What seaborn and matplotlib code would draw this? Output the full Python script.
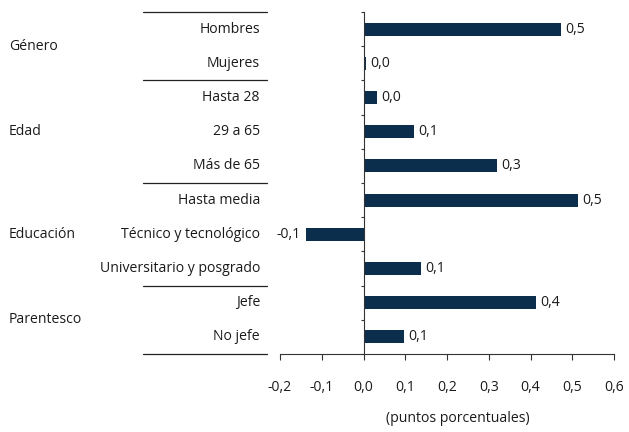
import pandas as pd
import matplotlib.pyplot as plt
import seaborn as sns
from matplotlib.transforms import blended_transform_factory
from matplotlib.lines import Line2D

# Chart values
categorias = ['Hombres', 'Mujeres', 'Hasta 28', '29 a 65', 'Más de 65',
              'Hasta media', 'Técnico y tecnológico', 'Universitario y posgrado',
              'Jefe', 'No jefe']
valores = [0.474, 0.005, 0.033, 0.122, 0.320, 0.514, -0.137, 0.137, 0.414, 0.098]
grupos = ['Género', 'Edad', 'Educación', 'Parentesco']
grupo_tamanos = [2, 3, 3, 2]
xticks = [-0.2, -0.1, 0.0, 0.1, 0.2, 0.3, 0.4, 0.5, 0.6]

df = pd.DataFrame({'categoria': categorias, 'valor': valores})

sns.set_theme(style='white')
plt.rcParams['font.family'] = ['Open Sans', 'DejaVu Sans']
color = '#0b2e4c'
fs = 10.1
tc = '#1a1a1a'

fig = plt.figure(figsize=(6.29, 4.32), dpi=100)
ax = fig.add_axes([280 / 629, 78 / 432, 334 / 629, 342 / 432])

sns.barplot(data=df, x='valor', y='categoria', orient='h', color=color,
            width=0.38, saturation=1, ax=ax)
for p in ax.patches:
    p.set_edgecolor('none')

ax.set_xlim(-0.2, 0.6)
ax.set_ylim(len(categorias) - 0.5, -0.5)
ax.set_xticks(xticks)
ax.set_xticklabels([f'{t:.1f}'.replace('.', ',') for t in xticks], fontsize=fs, color=tc)
ax.tick_params(axis='x', direction='out', length=4, width=0.8, color='#333333', pad=15, bottom=True)

# left spine sits at zero, with small ticks at category boundaries
ax.spines['left'].set_position(('data', 0))
ax.spines['left'].set_color('#333333')
ax.spines['left'].set_linewidth(0.8)
ax.spines['bottom'].set_color('#333333')
ax.spines['bottom'].set_linewidth(0.8)
ax.spines['top'].set_visible(False)
ax.spines['right'].set_visible(False)
ax.set_yticks([i - 0.5 for i in range(len(categorias) + 1)])
ax.set_yticklabels([])
ax.tick_params(axis='y', direction='out', length=2.5, width=0.8, color='#333333', left=True)
ax.set_xlabel('')
ax.set_ylabel('')

# value labels
for i, v in enumerate(valores):
    txt = f'{v:.1f}'.replace('.', ',')
    if v < 0:
        ax.annotate(txt, (v, i), xytext=(-4, 0), textcoords='offset points',
                    ha='right', va='center', fontsize=fs, color=tc)
    else:
        ax.annotate(txt, (v, i), xytext=(3, 0), textcoords='offset points',
                    ha='left', va='center', fontsize=fs, color=tc)

# category and group labels on the left
tr = blended_transform_factory(fig.transFigure, ax.transData)
for i, c in enumerate(categorias):
    fig.text(260 / 629, i, c, transform=tr, ha='right', va='center', fontsize=fs, color=tc)

inicio = 0
for g, n in zip(grupos, grupo_tamanos):
    centro = inicio + (n - 1) / 2
    fig.text(9 / 629, centro, g, transform=tr, ha='left', va='center', fontsize=fs, color=tc)
    inicio += n

bordes = [-0.5]
for n in grupo_tamanos:
    bordes.append(bordes[-1] + n)
for b in bordes:
    fig.add_artist(Line2D([143 / 629, 267 / 629], [b, b], transform=tr,
                          color='#222222', linewidth=0.9, clip_on=False))

fig.text(458 / 629, 13 / 432, '(puntos porcentuales)', ha='center', va='center',
         fontsize=fs, color=tc)

fig.savefig('out.png', dpi=100, facecolor='white')
